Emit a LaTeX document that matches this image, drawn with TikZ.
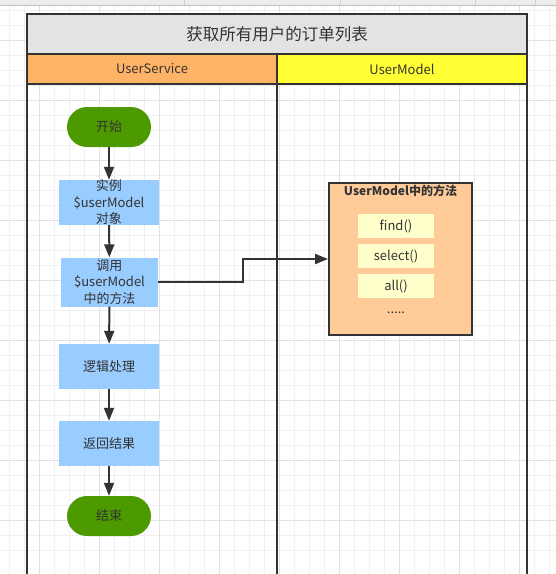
\documentclass[tikz,border=0pt]{standalone}
\usepackage{fontspec}
\setmainfont{Noto Sans CJK SC}
\usetikzlibrary{arrows.meta}
\definecolor{ink}{HTML}{333333}
\definecolor{gridlt}{HTML}{F0F0F0}
\definecolor{griddk}{HTML}{E2E2E2}
\definecolor{titlefill}{HTML}{E3E3E3}
\definecolor{svcfill}{HTML}{FFB366}
\definecolor{mdlfill}{HTML}{FFFF33}
\definecolor{greenfill}{HTML}{4D9900}
\definecolor{bluefill}{HTML}{99CCFF}
\definecolor{contfill}{HTML}{FFCC99}
\definecolor{itemfill}{HTML}{FFFFCC}
\tikzset{
  txt/.style={font=\fontsize{13}{16.5}\selectfont, text=ink, align=center, inner sep=0pt},
  term/.style={txt, rectangle, rounded corners=20pt, fill=greenfill, minimum width=84pt, minimum height=40pt},
  proc/.style={txt, rectangle, fill=bluefill, minimum width=100pt, minimum height=45pt},
  item/.style={txt, rectangle, fill=itemfill, minimum width=76pt, minimum height=24pt},
  flow/.style={draw=ink, line width=2pt, -{Triangle[length=13pt,width=10pt]}},
  poolline/.style={draw=ink, line width=2pt},
}
\begin{document}
\begin{tikzpicture}[x=1pt,y=-1pt]
\useasboundingbox (0,0) rectangle (556,574);
\fill[white] (0,0) rectangle (556,574);
% grid
\foreach \k in {0,...,36} {
  \draw[gridlt, line width=1pt] ({9.3+15*\k},0) -- ({9.3+15*\k},574);
  \draw[gridlt, line width=1pt] (0,{10+15*\k}) -- (556,{10+15*\k});
}
\foreach \k in {0,...,9} {
  \draw[griddk, line width=1pt] ({39.3+60*\k},0) -- ({39.3+60*\k},574);
  \draw[griddk, line width=1pt] (0,{40+60*\k}) -- (556,{40+60*\k});
}
% top strip
\fill[black!7] (0,0) rectangle (556,5);
\draw[black!25, line width=0.8pt] (0,5) -- (556,5);
\foreach \x in {184,340,475,535} \draw[black!18, line width=0.8pt] (\x,0) -- (\x,5);
% pool
\node[txt, font=\fontsize{16.5}{20}\selectfont, fill=titlefill, minimum width=500pt, minimum height=40pt] (title) at (277,34) {获取所有用户的订单列表};
\node[txt, fill=svcfill, minimum width=250pt, minimum height=30pt] (hdrA) at (152,69) {UserService};
\node[txt, fill=mdlfill, minimum width=250pt, minimum height=30pt] (hdrB) at (402,69) {UserModel};
\draw[poolline] (27,600) -- (27,14) -- (527,14) -- (527,600);
\draw[poolline] (27,54) -- (527,54);
\draw[poolline] (27,84) -- (527,84);
\draw[poolline] (277,54) -- (277,600);
% flow nodes
\node[term] (start) at (109,127) {开始};
\node[proc] (b1) at (109,202.5) {实例\\\$userModel\\对象};
\node[proc, minimum width=97pt, minimum height=49pt] (b2) at (109.5,282) {调用\\\$userModel\\中的方法};
\node[proc] (b3) at (109,366.5) {逻辑处理};
\node[proc] (b4) at (109,443.5) {返回结果};
\node[term] (end) at (109,516) {结束};
% container
\node[rectangle, draw=ink, line width=2pt, fill=contfill, minimum width=143pt, minimum height=152pt] (cont) at (400.5,259) {};
\node[txt, font=\fontsize{12}{14}\bfseries] (ctitle) at (400.5,191) {UserModel中的方法};
\node[item] (find) at (396,226) {find()};
\node[item] (select) at (396,256) {select()};
\node[item] (all) at (396,286) {all()};
\node[txt, anchor=base] (dots) at (396,313) {.....};
% connectors
\draw[flow] (start) -- (b1);
\draw[flow] (b1) -- (b2);
\draw[flow] (b2) -- (b3);
\draw[flow] (b3) -- (b4);
\draw[flow] (b4) -- (end);
\draw[flow] (b2.east) -- ++(85,0) |- (cont.west);
\end{tikzpicture}
\end{document}
